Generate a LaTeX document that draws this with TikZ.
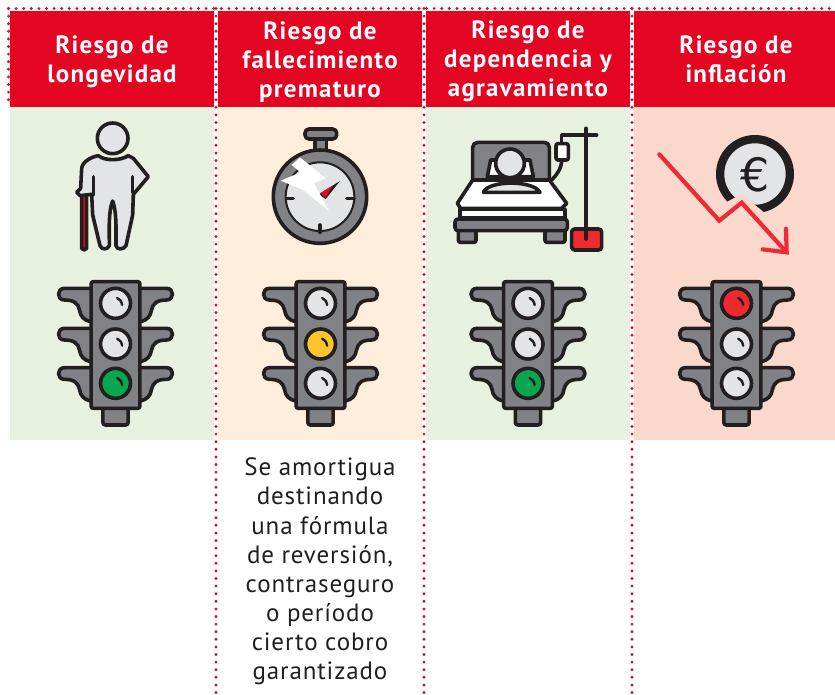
\documentclass[tikz,border=0pt]{standalone}
\usepackage{fontspec}
\setmainfont{PT Sans}[LetterSpace=3.5]
\newfontfamily\headfont{PT Sans}[BoldFont={PT Sans Bold},LetterSpace=5]
\newfontfamily\eurofont{DejaVu Sans}
\definecolor{hdred}{HTML}{E30521}
\definecolor{bgreen}{HTML}{E8F0E0}
\definecolor{borange}{HTML}{FFEEDC}
\definecolor{bpink}{HTML}{FBD8CC}
\definecolor{ink}{HTML}{231F20}
\definecolor{mgray}{HTML}{808285}
\definecolor{lgray}{HTML}{E3E4E6}
\definecolor{lgreen}{HTML}{0AA54F}
\definecolor{lyellow}{HTML}{FDC42D}
\definecolor{lred}{HTML}{EE2A2F}
\definecolor{arrowred}{HTML}{EE2A3A}
\tikzset{
  hdbox/.style={fill=hdred,draw=none},
  dotline/.style={draw=hdred,line width=3.2pt,line cap=round,dash pattern=on 0pt off 7.6pt},
  hdtext/.style={text=white,align=center,font=\headfont\bfseries\fontsize{25}{29.2}\selectfont},
  bodytext/.style={text=ink,align=center,font=\fontsize{25}{29.15}\selectfont},
  ic/.style={draw=ink,line width=3.6pt,line join=round,line cap=round},
}
\newcommand{\tlightwing}[1]{%
  \path[ic,fill=mgray] (-75,55+#1) -- (-153,55+#1) .. controls (-177,55+#1) and (-177,90+#1) .. (-153,90+#1) .. controls (-125,90+#1) and (-112,100+#1) .. (-108,120+#1) .. controls (-105,140+#1) and (-95,150+#1) .. (-75,155+#1);
}
\newcommand{\tlamp}[2]{%
  \path[ic,fill=#2] (0,#1) circle (45);
  \draw[ink,line width=2.4pt,line cap=round] (5,#1-16) .. controls (13,#1-13) and (18,#1-6) .. (20,#1+5);
}
% cx, colour of top, middle, bottom lamp
\newcommand{\tlight}[4]{%
  \begin{scope}[shift={(#1,270)},scale=1/3]
    \path[ic,fill=mgray,rounded corners=2.5pt] (-38,410) rectangle (38,465);
    \foreach \w in {0,120,238}{\tlightwing{\w}}
    \begin{scope}[xscale=-1]\foreach \w in {0,120,238}{\tlightwing{\w}}\end{scope}
    \path[ic,fill=mgray,rounded corners=2pt] (-73,35) rectangle (73,415);
    \tlamp{100}{#2}\tlamp{222}{#3}\tlamp{340}{#4}
  \end{scope}
}
\begin{document}
\begin{tikzpicture}[x=1pt,y=-1pt]
\useasboundingbox (0,0) rectangle (835,694);
\fill[white] (0,0) rectangle (835,694);
% backgrounds
\fill[bgreen] (10,107) rectangle (214,440);
\fill[borange] (218,107) rectangle (422,440);
\fill[bgreen] (426,107) rectangle (630,440);
\fill[bpink] (634,107) rectangle (835,440);
% headers
\path[hdbox] (10,10.5) rectangle (214,107);
\path[hdbox] (218,10.5) rectangle (422,107);
\path[hdbox] (426,10.5) rectangle (630,107);
\path[hdbox] (634,10.5) rectangle (835,107);
% dotted lines
\draw[dotline] (8.5,8.5) -- (835,8.5);
\draw[dotline] (8.5,8.5) -- (8.5,107);
\draw[dotline] (216,8.5) -- (216,694);
\draw[dotline] (424,8.5) -- (424,694);
\draw[dotline] (632,8.5) -- (632,694);
% header text
\node[hdtext] (h1) at (112,61.5) {Riesgo de\\longevidad};
\node[hdtext] (h2) at (320,62) {Riesgo de\\fallecimiento\\prematuro};
\node[hdtext] (h3) at (528,61.5) {Riesgo de\\dependencia y\\agravamiento};
\node[hdtext] (h4) at (736,59.5) {Riesgo de\\inflación};
\node[bodytext] (b2) at (320,571.5) {Se amortigua\\destinando\\una fórmula\\de reversión,\\contraseguro\\o período\\cierto cobro\\garantizado};
% traffic lights
\tlight{115.5}{lgray}{lgray}{lgreen}
\tlight{320.5}{lgray}{lyellow}{lgray}
\tlight{528}{lgray}{lgray}{lgreen}
\tlight{736.5}{lred}{lgray}{lgray}
% person
\begin{scope}[shift={(50,115)},scale=1/3]
  \path[ic,fill=hdred] (95,235) -- (110,235) -- (110,400) -- (102,405) -- (95,400) -- cycle;
  \path[ic,fill=lgray] (145,122) .. controls (165,138) and (210,138) .. (235,122) -- (250,130) -- (295,185) -- (250,238) -- (248,300) -- (228,392) .. controls (220,405) and (200,405) .. (198,392) .. controls (198,340) and (200,290) .. (188,258) .. controls (175,290) and (178,340) .. (178,392) .. controls (172,405) and (155,405) .. (150,392) -- (128,300) -- (125,238) -- (90,242) -- (80,232) -- (92,220) -- (95,160) .. controls (97,140) and (125,125) .. (145,122) -- cycle;
  \draw[ic] (130,185) -- (130,240) (248,185) -- (248,232);
  \path[ic,fill=lgray] (188,70) circle (46);
\end{scope}
% stopwatch
\begin{scope}[shift={(260,115)},scale=1/3]
  \path[ic,fill=mgray] (165,70) rectangle (200,115);
  \path[ic,fill=mgray,rounded corners=4pt] (135,42) rectangle (230,72);
  \path[ic,fill=mgray] (180,245) circle (140);
  \path[ic,fill=lgray,line width=2pt] (180,245) circle (103);
  \draw[ic] (260,250) -- (283,250) (180,330) -- (180,352) (80,250) -- (100,250);
  \fill[ink] (176,238) -- (240,198) -- (197,252) -- cycle;
  \fill[hdred] (180,235) -- (218,212) -- (197,248) -- cycle;
  \fill[white] (120,127) -- (197,190) -- (162,205) -- (207,288) -- (130,225) -- (62,197) -- (122,172) -- (95,150) -- cycle;
\end{scope}
% bed
\begin{scope}[shift={(450,115)},scale=1/3]
  \path[ic,fill=mgray,rounded corners=5pt] (68,210) -- (68,82) -- (298,82) -- (298,210) -- cycle;
  \path[ic,fill=white] (112,185) -- (122,135) -- (240,135) -- (250,185) -- cycle;
  \path[ic,fill=white] (68,195) -- (298,195) -- (350,265) -- (335,280) -- (32,280) -- (22,265) -- cycle;
  \path[ic,fill=lgray] (100,232) .. controls (115,195) and (250,195) .. (270,232) -- cycle;
  \path[ic,fill=lgray] (180,145) circle (43);
  \path[ic,fill=white] (30,282) rectangle (345,308);
  \path[ic,fill=mgray,rounded corners=2pt] (25,345) rectangle (78,382);
  \path[ic,fill=mgray,rounded corners=2pt] (285,345) rectangle (345,382);
  \path[ic,fill=mgray,rounded corners=3pt] (15,312) rectangle (352,347);
  \path[ic,fill=lred,rounded corners=3pt] (365,342) rectangle (455,405);
  \draw[ic] (408,40) -- (408,372) (335,85) -- (335,60) -- (440,60);
  \draw[ic] (335,135) .. controls (335,160) and (320,180) .. (305,195);
  \path[ic,fill=white,rounded corners=2pt] (318,86) rectangle (355,135);
\end{scope}
% euro and falling arrow
\begin{scope}[shift={(640,120)},scale=1/3]
  \fill[ink] (345,162) circle (117);
  \fill[lgray] (345,162) circle (92);
  \node[inner sep=0pt,text=ink,font=\eurofont\fontsize{46}{46}\selectfont] (euro) at (345,163) {€};
  \fill[bpink] (262,245) -- (305,222) -- (378,282) -- (300,330) -- cycle;
  \draw[arrowred,line width=4.2pt,line cap=round,line join=miter] (58,103) -- (238,302) -- (305,248) -- (438,395);
  \draw[arrowred,line width=4.2pt,line cap=round,line join=miter] (438,326) -- (440,397) -- (368,388);
\end{scope}
\end{tikzpicture}
\end{document}
